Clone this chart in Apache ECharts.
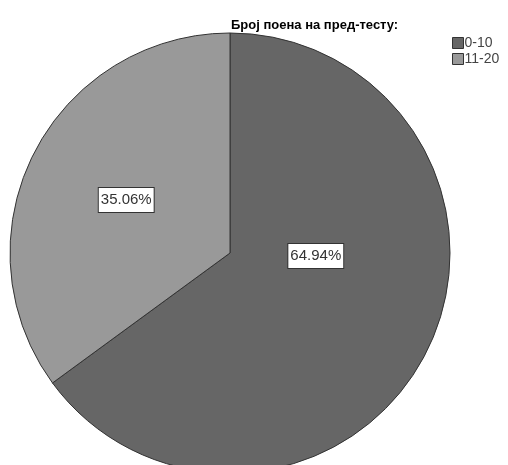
<!DOCTYPE html>
<html><head><meta charset="utf-8">
<script src="https://cdn.jsdelivr.net/npm/echarts@6/dist/echarts.min.js"></script>
<style>html,body{margin:0;padding:0;background:#fff}#c{width:508px;height:465px}</style>
</head><body><div id="c"></div>
<script>
const titleText = 'Број поена на пред-тесту:';
const categories = ['0-10', '11-20'];
const values = [64.94, 35.06];
const colors = ['#666666', '#999999'];
const labelOffsets = [[-15, -48], [-3, -2]];

const chart = echarts.init(document.getElementById('c'), null, {renderer: 'canvas'});
chart.setOption({
  animation: false,
  backgroundColor: '#ffffff',
  title: {
    text: titleText, left: 226, top: 14,
    textStyle: {fontFamily: 'Liberation Sans, Arial', fontSize: 13, fontWeight: 'bold', color: '#000'}
  },
  legend: {
    orient: 'vertical', left: 452, top: 36, padding: 0,
    itemWidth: 11, itemHeight: 11, itemGap: 2,
    icon: 'rect',
    textStyle: {fontFamily: 'Liberation Sans, Arial', fontSize: 14, lineHeight: 13, color: '#444', padding: [0, 0, 0, -4]},
    itemStyle: {borderColor: '#333', borderWidth: 1},
    data: categories
  },
  series: [{
    type: 'pie',
    center: [230, 253],
    radius: [0, 220],
    startAngle: 90,
    clockwise: true,
    silent: true,
    itemStyle: {borderColor: '#333', borderWidth: 1},
    label: {
      position: 'inside',
      formatter: p => p.value.toFixed(2) + '%',
      fontFamily: 'Liberation Sans, Arial',
      fontSize: 15,
      color: '#333',
      backgroundColor: '#fff',
      borderColor: '#333',
      borderWidth: 1,
      padding: [5, 2, 4, 2]
    },
    labelLine: {show: false},
    data: categories.map((c, i) => ({
      name: c, value: values[i],
      itemStyle: {color: colors[i]},
      label: {offset: labelOffsets[i]}
    }))
  }]
});
</script></body></html>
